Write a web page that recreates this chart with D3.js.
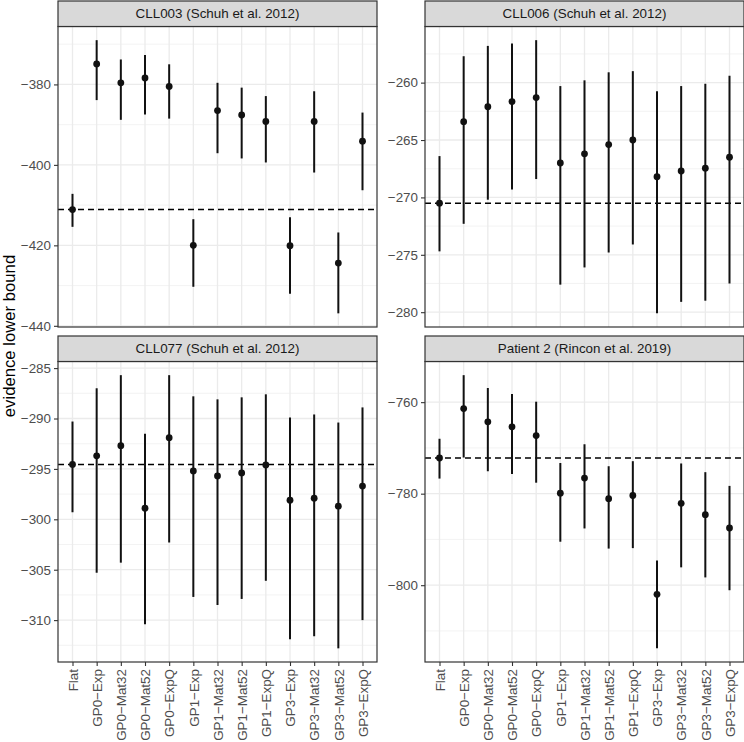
<!DOCTYPE html>
<html>
<head>
<meta charset="utf-8">
<script src="https://cdn.jsdelivr.net/npm/d3@7"></script>
<style>
  html, body { margin: 0; padding: 0; background: #fff; }
  svg { display: block; font-family: "Liberation Sans", Arial, Helvetica, sans-serif; }
</style>
</head>
<body>
<svg id="chart" width="744" height="742"></svg>
<script>
// ---------- data ----------
const categories = ["Flat","GP0-Exp","GP0-Mat32","GP0-Mat52","GP0-ExpQ","GP1-Exp","GP1-Mat32","GP1-Mat52","GP1-ExpQ","GP3-Exp","GP3-Mat32","GP3-Mat52","GP3-ExpQ"];
const panelTitles = ["CLL003 (Schuh et al. 2012)", "CLL006 (Schuh et al. 2012)", "CLL077 (Schuh et al. 2012)", "Patient 2 (Rincon et al. 2019)"];

const cll003Mean  = [-411.1, -374.9, -379.6, -378.4, -380.5, -420.0, -386.5, -387.6, -389.2, -420.1, -389.2, -424.4, -394.1];
const cll003Lower = [-415.4, -383.9, -388.8, -387.5, -388.5, -430.3, -397.1, -398.4, -399.4, -432.0, -401.9, -436.9, -406.3];
const cll003Upper = [-407.2, -369.0, -373.8, -372.7, -375.0, -413.5, -379.6, -380.8, -382.9, -413.0, -381.7, -416.8, -387.0];

const cll006Mean  = [-270.5, -263.4, -262.1, -261.65, -261.3, -267.0, -266.2, -265.4, -265.0, -268.2, -267.7, -267.45, -266.5];
const cll006Lower = [-274.7, -272.3, -270.2, -269.3, -268.4, -277.6, -276.1, -274.8, -274.1, -280.1, -279.1, -279.0, -277.5];
const cll006Upper = [-266.4, -257.7, -256.8, -256.6, -256.3, -260.3, -259.8, -259.1, -259.0, -260.75, -260.3, -260.1, -259.4];

const cll077Mean  = [-294.56, -293.7, -292.7, -298.9, -291.9, -295.2, -295.7, -295.4, -294.6, -298.1, -297.9, -298.7, -296.7];
const cll077Lower = [-299.3, -305.3, -304.3, -310.4, -302.3, -307.7, -308.5, -307.9, -306.1, -311.9, -311.6, -312.8, -310.0];
const cll077Upper = [-290.3, -287.0, -285.7, -291.5, -285.7, -287.8, -288.1, -287.9, -287.6, -289.9, -289.6, -290.4, -288.9];

const patient2Mean  = [-772.2, -761.4, -764.3, -765.4, -767.3, -779.9, -776.6, -781.1, -780.4, -802.0, -782.1, -784.6, -787.5];
const patient2Lower = [-776.7, -772.1, -775.1, -775.7, -777.6, -790.5, -787.6, -792.0, -791.9, -813.8, -796.1, -798.3, -801.1];
const patient2Upper = [-768.0, -754.1, -756.9, -758.2, -759.9, -773.3, -769.2, -774.0, -772.9, -794.6, -773.4, -775.3, -778.3];

const cll003Ticks   = [-440, -420, -400, -380];
const cll006Ticks   = [-280, -275, -270, -265, -260];
const cll077Ticks   = [-310, -305, -300, -295, -290, -285];
const patient2Ticks = [-800, -780, -760];

const yTitle = "evidence lower bound";

// ---------- layout ----------
const panels = [
  { title: panelTitles[0], mean: cll003Mean, lower: cll003Lower, upper: cll003Upper, ticks: cll003Ticks, col: 0, row: 0 },
  { title: panelTitles[1], mean: cll006Mean, lower: cll006Lower, upper: cll006Upper, ticks: cll006Ticks, col: 1, row: 0 },
  { title: panelTitles[2], mean: cll077Mean, lower: cll077Lower, upper: cll077Upper, ticks: cll077Ticks, col: 0, row: 1 },
  { title: panelTitles[3], mean: patient2Mean, lower: patient2Lower, upper: patient2Upper, ticks: patient2Ticks, col: 1, row: 1 }
];

const colLeft = [58, 425];
const panelW = 319;
const stripTop = [1, 336];
const stripH = 25.5;
const plotH = 300.5;

const fmtLabel = s => s.replace(/-/g, "\u2212");
const fmtNum = d3.format("d");

const svg = d3.select("#chart");

panels.forEach(p => {
  const x0 = colLeft[p.col], x1 = x0 + panelW;
  const sTop = stripTop[p.row];
  const y0 = sTop + stripH, y1 = y0 + plotH;

  const x = d3.scalePoint().domain(categories).range([x0, x1]).padding(0.6);
  const lo = d3.min(p.lower), hi = d3.max(p.upper);
  const pad = (hi - lo) * 0.05;
  const y = d3.scaleLinear().domain([lo - pad, hi + pad]).range([y1, y0]);

  const g = svg.append("g");

  // background
  g.append("rect").attr("x", x0).attr("y", y0).attr("width", panelW).attr("height", plotH).attr("fill", "#fff");

  // minor grid
  const step = p.ticks[1] - p.ticks[0];
  const minor = [];
  for (let v = p.ticks[0] - step / 2; v <= p.ticks[p.ticks.length - 1] + step / 2 + 1e-9; v += step) {
    if (v >= y.domain()[0] && v <= y.domain()[1]) minor.push(v);
  }
  g.selectAll(".minor").data(minor).enter().append("line")
    .attr("x1", x0).attr("x2", x1)
    .attr("y1", d => y(d)).attr("y2", d => y(d))
    .attr("stroke", "#F0F0F0").attr("stroke-width", 0.8);

  // major grid horizontal
  g.selectAll(".majorY").data(p.ticks).enter().append("line")
    .attr("x1", x0).attr("x2", x1)
    .attr("y1", d => y(d)).attr("y2", d => y(d))
    .attr("stroke", "#EBEBEB").attr("stroke-width", 1.3);

  // major grid vertical
  g.selectAll(".majorX").data(categories).enter().append("line")
    .attr("x1", d => x(d)).attr("x2", d => x(d))
    .attr("y1", y0).attr("y2", y1)
    .attr("stroke", "#EBEBEB").attr("stroke-width", 1.3);

  // dashed reference line at Flat
  const ref = p.mean[0];
  g.append("line")
    .attr("x1", x0).attr("x2", x1)
    .attr("y1", y(ref)).attr("y2", y(ref))
    .attr("stroke", "#000").attr("stroke-width", 1.5)
    .attr("stroke-dasharray", "6,4");

  // error bars
  const rows = categories.map((c, i) => ({ c, m: p.mean[i], l: p.lower[i], u: p.upper[i] }));
  g.selectAll(".err").data(rows).enter().append("line")
    .attr("x1", d => x(d.c)).attr("x2", d => x(d.c))
    .attr("y1", d => y(d.l)).attr("y2", d => y(d.u))
    .attr("stroke", "#111").attr("stroke-width", 2);

  // points
  g.selectAll(".pt").data(rows).enter().append("circle")
    .attr("cx", d => x(d.c)).attr("cy", d => y(d.m))
    .attr("r", 3.4).attr("fill", "#111");

  // panel border
  g.append("rect").attr("x", x0).attr("y", y0).attr("width", panelW).attr("height", plotH)
    .attr("fill", "none").attr("stroke", "#333").attr("stroke-width", 1.2);

  // strip
  g.append("rect").attr("x", x0).attr("y", sTop).attr("width", panelW).attr("height", stripH)
    .attr("fill", "#D9D9D9").attr("stroke", "#333").attr("stroke-width", 1.2);
  g.append("text").attr("x", (x0 + x1) / 2).attr("y", sTop + stripH / 2)
    .attr("dy", "0.35em").attr("text-anchor", "middle")
    .attr("font-size", 13.4).attr("fill", "#1A1A1A")
    .text(p.title);

  // y axis
  const yAxis = d3.axisLeft(y).tickValues(p.ticks).tickSize(4).tickPadding(3).tickFormat(fmtNum);
  const ya = g.append("g").attr("transform", `translate(${x0},0)`).call(yAxis);
  ya.select(".domain").remove();
  ya.selectAll(".tick line").attr("stroke", "#333").attr("stroke-width", 1.1);
  ya.selectAll(".tick text").attr("font-size", 13.4).attr("fill", "#4D4D4D")
    .attr("font-family", "Liberation Sans, Arial, sans-serif");

  // x axis only on bottom row
  if (p.row === 1) {
    const xAxis = d3.axisBottom(x).tickSize(4).tickPadding(3).tickFormat(fmtLabel);
    const xa = g.append("g").attr("transform", `translate(0,${y1})`).call(xAxis);
    xa.select(".domain").remove();
    xa.selectAll(".tick line").attr("stroke", "#333").attr("stroke-width", 1.1);
    xa.selectAll(".tick text")
      .attr("font-size", 13.4).attr("fill", "#4D4D4D")
      .attr("font-family", "Liberation Sans, Arial, sans-serif")
      .attr("text-anchor", "end")
      .attr("transform", "rotate(-90)")
      .attr("x", -7).attr("y", 0).attr("dy", "0.35em");
  }
});

// y axis title
svg.append("text")
  .attr("transform", "translate(15,336) rotate(-90)")
  .attr("text-anchor", "middle")
  .attr("font-size", 16.7).attr("fill", "#000")
  .text(yTitle);
</script>
</body>
</html>
